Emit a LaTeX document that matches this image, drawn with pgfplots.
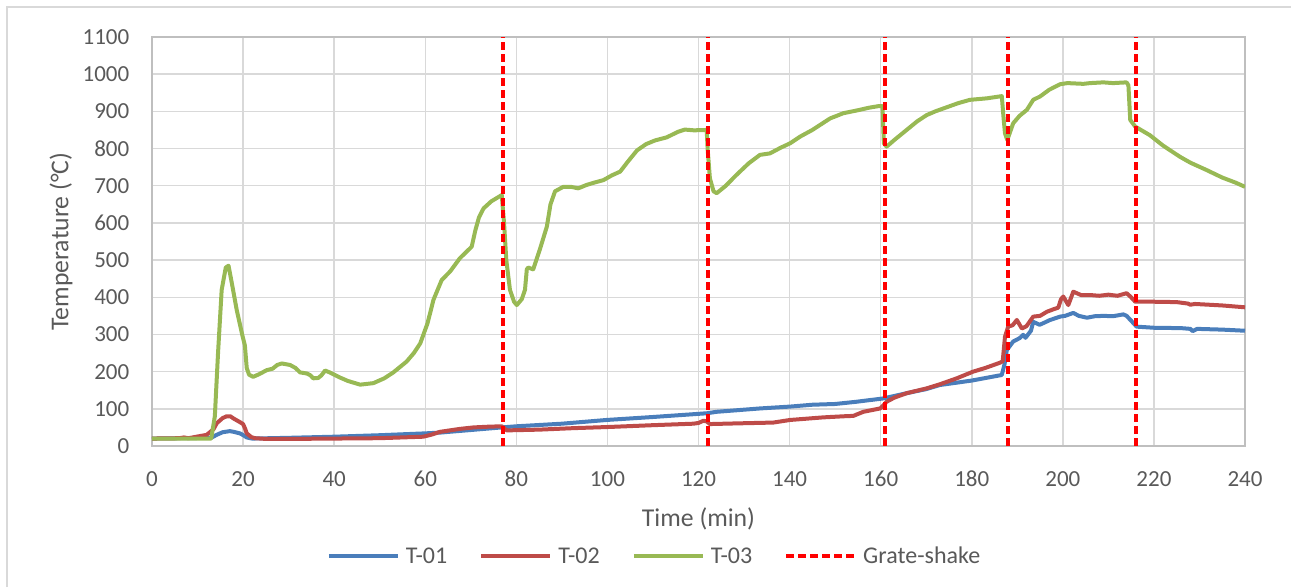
\documentclass[border=0pt]{standalone}
\usepackage{fontspec}
\setmainfont{Carlito}
\usepackage{pgfplots}
\pgfplotsset{compat=1.18}
\definecolor{txtgray}{HTML}{595959}
\definecolor{gridgray}{HTML}{D9D9D9}
\definecolor{axisgray}{HTML}{BFBFBF}
\definecolor{cblue}{HTML}{4A7EBB}
\definecolor{cred}{HTML}{BE4B48}
\definecolor{cgreen}{HTML}{98B954}
\definecolor{cdash}{HTML}{FF0000}
\begin{document}
\begin{tikzpicture}[x=1pt,y=1pt]
\useasboundingbox (0,0) rectangle (1291,587);
\draw[gridgray,line width=1.5pt] (7,0) -- (7,580) -- (1291,580);
\begin{axis}[
  at={(152pt,141pt)}, anchor=south west,
  scale only axis, width=1093pt, height=409pt,
  xmin=0, xmax=240, ymin=0, ymax=1100,
  xtick={0,20,...,240}, ytick={0,100,...,1100},
  grid=major, major grid style={draw=gridgray, line width=1.5pt},
  major tick length=0pt,
  axis line style={draw=axisgray, line width=1.5pt},
  unbounded coords=jump,
  /pgf/number format/assume math mode=true,
  /pgf/number format/1000 sep={},
  tick label style={font=\fontsize{23}{27}\selectfont, text=txtgray, inner sep=0pt},
  xticklabel style={anchor=center, yshift=-33pt},
  yticklabel style={anchor=east, xshift=-22.5pt},
  xlabel={Time (min)}, ylabel={Temperature (°C)},
  label style={font=\fontsize{25.7}{30}\selectfont, text=txtgray},
  xlabel style={at={(axis description cs:0.5,-0.1785)}, anchor=center, inner sep=0pt},
  ylabel style={at={(axis description cs:-0.0833,0.5)}, anchor=center, inner sep=0pt},
  legend columns=4,
  legend style={draw=none, fill=none, at={(axis description cs:0.4588,-0.269)}, anchor=center,
    font=\fontsize{24}{28}\selectfont, text=txtgray, inner sep=0pt,
    /tikz/every odd column/.append style={column sep=6pt},
    /tikz/every even column/.append style={column sep=32pt},
    nodes={inner sep=0pt}},
  legend image code/.code={\draw[#1] (0pt,0pt) -- (69pt,0pt);},
  legend cell align=left,
  every axis plot/.append style={line join=round},
]
\addplot[cblue, line width=4pt] coordinates {
(0,20)(13,22)(14.2,30)(15.5,37)(17.1,40)(18,38)(19.3,34)(20.2,28)(20.8,23)(22,20)(30,22)(40,25)(50,29)(60,34)(63.2,36)(70,43)(76.8,50)(80,53)(90,60)(99.8,70)(110,78)(121.8,88)(124,92)(133.5,101)(140.1,106)(145,111)(150,113)(154.7,119)(160.6,128)(165.7,142)(170,153)(173,164)(180,176)(186.6,191)(187.2,220)(187.7,258)(189.1,281)(190.5,290)(191.3,299)(191.8,291)(193,310)(193.5,334)(194.9,326)(196,332)(197,338)(199.4,348)(200.5,350)(202.3,358)(203.5,350)(205.3,345)(207,349)(209,350)(211,349)(213.3,354)(214,350)(215,337)(216.2,321)(220,318)(226,317)(228,315)(228.5,309)(229.5,315)(235,313)(240,310)
};
\addlegendentry{T-01}
\addplot[cred, line width=4pt] coordinates {
(0,20)(6,21)(7,23)(8,21)(12,30)(13.5,45)(14.2,61)(15.5,75)(16.4,80)(17.2,80)(17.9,74)(19.2,65)(20,59)(20.5,45)(20.8,34)(21.8,24)(22.6,21)(25,19)(30,19)(40,20)(50,21)(59.6,25)(61.5,31)(63.2,38)(67.6,46)(70.6,50)(74,52)(76.8,53)(77.9,42)(85,44)(92.5,48)(100,51)(110,56)(118.9,60)(120,62)(121.1,68)(121.8,66)(122.5,59)(129.1,61)(136.4,63)(140.1,70)(147.4,77)(152,80)(154,81)(156.2,92)(159.9,101)(160.5,108)(161.3,119)(163,130)(165.7,142)(170.1,155)(173,166)(176.7,182)(180.3,200)(183,210)(186.2,224)(186.8,228)(187.3,294)(188,321)(189,325)(189.9,339)(191,316)(192,322)(193.5,348)(195,350)(196.5,361)(198,368)(199,372)(199.6,395)(200.1,402)(201.2,379)(202.3,415)(204,406)(206,406)(208,404)(210,407)(212,404)(214,411)(215,400)(215.9,388)(220,388)(225,387)(227.5,383)(228,380)(229,382)(235,378)(240,373)
};
\addlegendentry{T-02}
\addplot[cgreen, line width=4pt] coordinates {
(0,20)(5,20)(10,20)(13,20)(13.8,80)(14.5,250)(15.3,420)(16.2,480)(16.8,485)(17.5,440)(18.6,366)(19.8,300)(20.4,270)(20.8,210)(21.3,192)(22.2,186)(23.5,193)(25.2,204)(26.5,208)(27.5,218)(28.5,222)(30.3,218)(31.5,210)(32.5,198)(34,195)(34.8,190)(35.4,182)(36.5,183)(37.2,190)(38,203)(39,198)(41.3,184)(43,175)(45.7,165)(48.6,169)(51,182)(53,198)(55.9,227)(57.5,250)(58.9,276)(60.5,330)(61.8,393)(63.6,446)(65.5,470)(67.6,505)(70.2,536)(71,580)(71.8,615)(72.8,639)(74.5,658)(76.8,675)(77.3,600)(77.8,500)(78.6,420)(79.5,388)(80.1,379)(81.2,395)(81.9,420)(82.3,475)(82.6,480)(83.7,475)(85.2,530)(86.7,590)(87.5,650)(88.5,685)(90.3,697)(92,697)(93.6,693)(95.4,702)(97,708)(99.1,715)(101,728)(102.8,738)(104.5,765)(106.5,795)(108.5,812)(110.5,822)(113,830)(115.5,845)(117,851)(119,849)(121.8,850)(122,800)(122.5,720)(123.3,685)(124,680)(126,700)(128,725)(129.1,738)(131,760)(133.5,783)(135.7,787)(138,802)(140.1,814)(142.3,832)(145,850)(148.9,881)(151.8,895)(155,903)(157.5,910)(159.5,914)(160.4,914)(160.7,814)(161.3,805)(163,823)(165.7,850)(168,873)(170.1,890)(172,900)(174.5,911)(177,922)(179.6,931)(183.3,935)(186.6,941)(187,880)(187.3,841)(187.8,823)(189.1,868)(190.5,888)(192.1,904)(193.5,931)(195,940)(197,958)(199.4,973)(201,976)(204.5,974)(206,976)(208.9,978)(211,976)(214,978)(214.4,970)(214.8,877)(215.9,859)(219.1,836)(222,808)(225.7,778)(228,762)(231.6,742)(235,722)(238,708)(240,697)
};
\addlegendentry{T-03}
\addplot[cdash, line width=4pt, dash pattern=on 8pt off 4pt] coordinates {
(77,0)(77,1100)(77,nan)(122,0)(122,1100)(122,nan)(161,0)(161,1100)(161,nan)(188,0)(188,1100)(188,nan)(216,0)(216,1100)
};
\addlegendentry{Grate-shake}
\end{axis}
\end{tikzpicture}
\end{document}
